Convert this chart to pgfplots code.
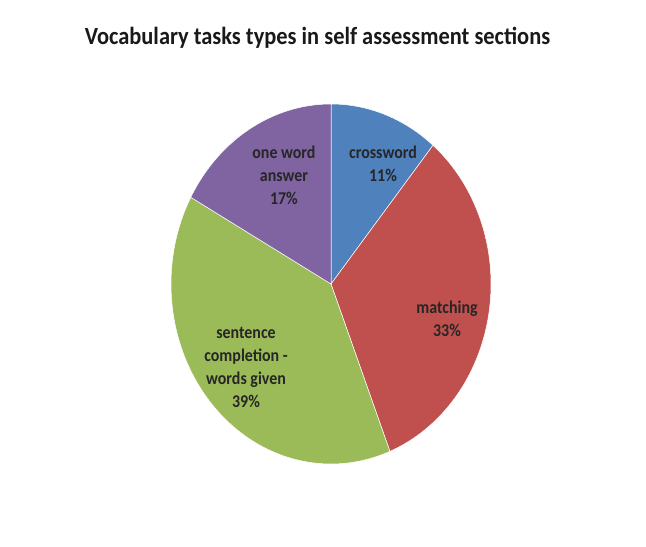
\documentclass[border=0pt]{standalone}
\usepackage{pgfplots}
\usepackage{pgfplotstable}
\pgfplotsset{compat=1.18}
\usepackage{fontspec}
\setmainfont{Carlito}

\definecolor{pblue}{HTML}{4F81BD}
\definecolor{pred}{HTML}{C0504D}
\definecolor{pgreen}{HTML}{9BBB59}
\definecolor{ppurple}{HTML}{8064A2}

\tikzset{lbl/.style={font=\bfseries\fontsize{16}{20.5}\selectfont, align=center,
    text=black!85, yscale=1.125, transform shape}}

% share of each task type, in %
\pgfplotstableread{
name value
crossword 11
matching 33
sentence 39
oneword 17
}\piedata

\begin{document}
\begin{tikzpicture}
\pgfplotstablegetelem{0}{value}\of\piedata \let\va\pgfplotsretval
\pgfplotstablegetelem{1}{value}\of\piedata \let\vb\pgfplotsretval
\pgfplotstablegetelem{2}{value}\of\piedata \let\vc\pgfplotsretval
\pgfplotstablegetelem{3}{value}\of\piedata \let\vd\pgfplotsretval
% slice borders, clockwise from the top
\pgfmathsetmacro\aA{90}
\pgfmathsetmacro\aB{\aA-3.6*\va}
\pgfmathsetmacro\aC{\aB-3.6*\vb}
\pgfmathsetmacro\aD{\aC-3.6*\vc}
\pgfmathsetmacro\aE{\aD-3.6*\vd}
\begin{axis}[
    x=160bp, y=180bp,
    xmin=-2.06875, xmax=1.96875,
    ymin=-1.46111, ymax=1.57778,
    hide axis, clip=false,
    title={Vocabulary tasks types in self assessment sections},
    title style={at={(rel axis cs:0.4915,0.9086)}, anchor=base,
        font=\bfseries\fontsize{22.5}{26}\selectfont, text=black!90,
        yscale=1.1, transform shape},
]
\path (rel axis cs:0,0) rectangle (rel axis cs:1,1);
\addplot[fill=pblue, draw=white, line width=0.5pt, domain=\aB:\aA, samples=60, variable=\t]
    ({cos(\t)},{sin(\t)}) -- (axis cs:0,0) -- cycle;
\addplot[fill=pred, draw=white, line width=0.5pt, domain=\aC:\aB, samples=90, variable=\t]
    ({cos(\t)},{sin(\t)}) -- (axis cs:0,0) -- cycle;
\addplot[fill=pgreen, draw=white, line width=0.5pt, domain=\aD:\aC, samples=90, variable=\t]
    ({cos(\t)},{sin(\t)}) -- (axis cs:0,0) -- cycle;
\addplot[fill=ppurple, draw=white, line width=0.5pt, domain=\aE:\aD, samples=60, variable=\t]
    ({cos(\t)},{sin(\t)}) -- (axis cs:0,0) -- cycle;
\node[lbl] at (axis cs:0.325,0.669) {crossword\\\va\%};
\node[lbl] at (axis cs:0.725,-0.192) {matching\\\vb\%};
\node[lbl] at (axis cs:-0.531,-0.464) {sentence\\completion -\\words given\\\vc\%};
\node[lbl] at (axis cs:-0.294,0.606) {one word\\answer\\\vd\%};
\end{axis}
\end{tikzpicture}
\end{document}
